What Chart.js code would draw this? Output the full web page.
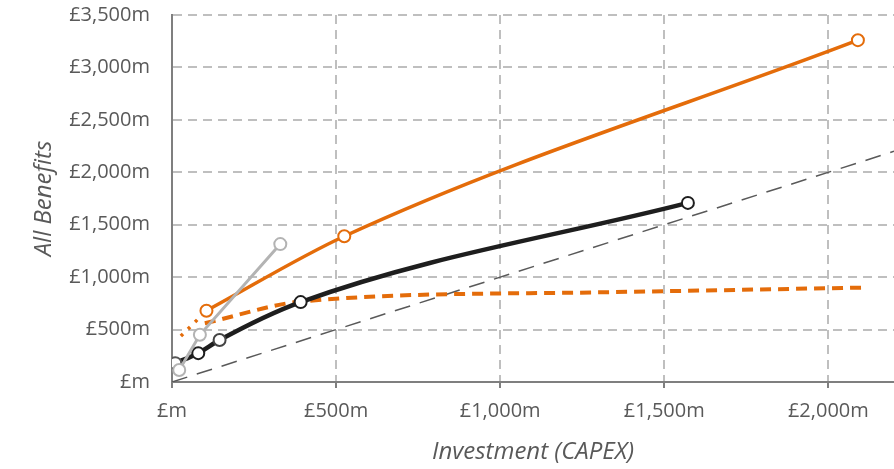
<!DOCTYPE html>
<html>
<head>
<meta charset="utf-8">
<script src="https://cdn.jsdelivr.net/npm/chart.js@4"></script>
<style>
  html, body { margin: 0; padding: 0; background: #fff; }
  #wrap { width: 894px; height: 469px; }
</style>
</head>
<body>
<div id="wrap"><canvas id="myChart" width="894" height="469"></canvas></div>
<script>
// values (£m)
const orangeX = [105, 525, 2090]
const orangeY = [680, 1390, 3260]

const orangeDotX = [27, 105]
const orangeDotY = [438, 680]

const orangeDashX = [100, 400, 1300, 2100]
const orangeDashY = [560, 770, 855, 900]

const blackX = [10, 80, 145, 392, 1572]
const blackY = [180, 275, 400, 762, 1708]

const greyX = [22, 85, 330]
const greyY = [115, 450, 1315]

const parityX = [0, 2200]
const parityY = [0, 2200]

const xTicks = [0, 500, 1000, 1500, 2000]
const xTickLabels = ['£m', '£500m', '£1,000m', '£1,500m', '£2,000m']
const yTicks = [0, 500, 1000, 1500, 2000, 2500, 3000, 3500]
const yTickLabels = ['£m', '£500m', '£1,000m', '£1,500m', '£2,000m', '£2,500m', '£3,000m', '£3,500m']

const pts = (xs, ys) => xs.map((x, i) => ({x: x, y: ys[i]}))

const orange = '#E46C0A'
const textGrey = '#595959'
const gridGrey = '#BFBFBF'
const font = "'Open Sans', sans-serif"

let ctx = document.getElementById('myChart').getContext('2d')
let chart = new Chart(ctx, {
    type: 'line',
    data: {
        datasets: [{
            label: 'grey',
            data: pts(greyX, greyY),
            borderColor: '#B3B3B3',
            borderWidth: 3,
            pointRadius: 6,
            pointBorderWidth: 2,
            pointBackgroundColor: '#fff',
            pointBorderColor: '#B3B3B3'
        }, {
            label: 'black',
            data: pts(blackX, blackY),
            borderColor: '#1E1E1E',
            borderWidth: 4.5,
            cubicInterpolationMode: 'monotone',
            pointRadius: 6,
            pointBorderWidth: 2,
            pointBackgroundColor: '#fff',
            pointBorderColor: ['#555', '#1E1E1E', '#444', '#1E1E1E', '#1E1E1E']
        }, {
            label: 'orange',
            data: pts(orangeX, orangeY),
            borderColor: orange,
            borderWidth: 3.5,
            cubicInterpolationMode: 'monotone',
            pointRadius: 6,
            pointBorderWidth: 2,
            pointBackgroundColor: '#fff',
            pointBorderColor: orange
        }, {
            label: 'orange dotted',
            data: pts(orangeDotX, orangeDotY),
            borderColor: orange,
            borderWidth: 3.5,
            borderDash: [3, 7],
            pointRadius: 0
        }, {
            label: 'orange dashed',
            data: pts(orangeDashX, orangeDashY),
            borderColor: orange,
            borderWidth: 4,
            borderDash: [11, 7],
            cubicInterpolationMode: 'monotone',
            pointRadius: 0
        }, {
            label: 'parity',
            data: pts(parityX, parityY),
            borderColor: '#595959',
            borderWidth: 1.5,
            borderDash: [16, 10],
            pointRadius: 0
        }]
    },
    options: {
        responsive: false,
        animation: false,
        layout: { autoPadding: false, padding: { top: 15, right: 0, left: 0, bottom: 0 } },
        plugins: {
            legend: { display: false },
            tooltip: { enabled: false }
        },
        scales: {
            x: {
                type: 'linear',
                min: 0,
                max: 2200,
                afterBuildTicks: s => { s.ticks = xTicks.map(v => ({value: v})) },
                afterFit: s => { s.height = 87; s.paddingLeft = 0; s.paddingRight = 0 },
                ticks: {
                    color: textGrey,
                    font: { family: font, size: 20 },
                    padding: 11,
                    maxRotation: 0,
                    callback: v => xTickLabels[xTicks.indexOf(v)]
                },
                grid: { color: gridGrey, lineWidth: 2, tickLength: 6, tickColor: '#7F7F7F', tickBorderDash: [] },
                border: { color: '#7F7F7F', width: 2, dash: [9, 6] },
                title: {
                    display: true,
                    text: 'Investment (CAPEX)',
                    color: textGrey,
                    font: { family: font, size: 24, style: 'italic' },
                    padding: { top: 0, bottom: 2 }
                }
            },
            y: {
                min: 0,
                max: 3500,
                afterBuildTicks: s => { s.ticks = yTicks.map(v => ({value: v})) },
                afterFit: s => { s.width = 172; s.paddingTop = 0; s.paddingBottom = 0 },
                ticks: {
                    color: textGrey,
                    font: { family: font, size: 20 },
                    padding: 22,
                    callback: v => yTickLabels[yTicks.indexOf(v)]
                },
                grid: { color: gridGrey, lineWidth: 2, drawTicks: false },
                border: { color: '#7F7F7F', width: 2, dash: [9, 6] },
                title: {
                    display: true,
                    text: 'All Benefits',
                    color: textGrey,
                    font: { family: font, size: 24, style: 'italic' },
                    padding: { top: 30, bottom: 0 }
                }
            }
        }
    }
})
</script>
</body>
</html>
